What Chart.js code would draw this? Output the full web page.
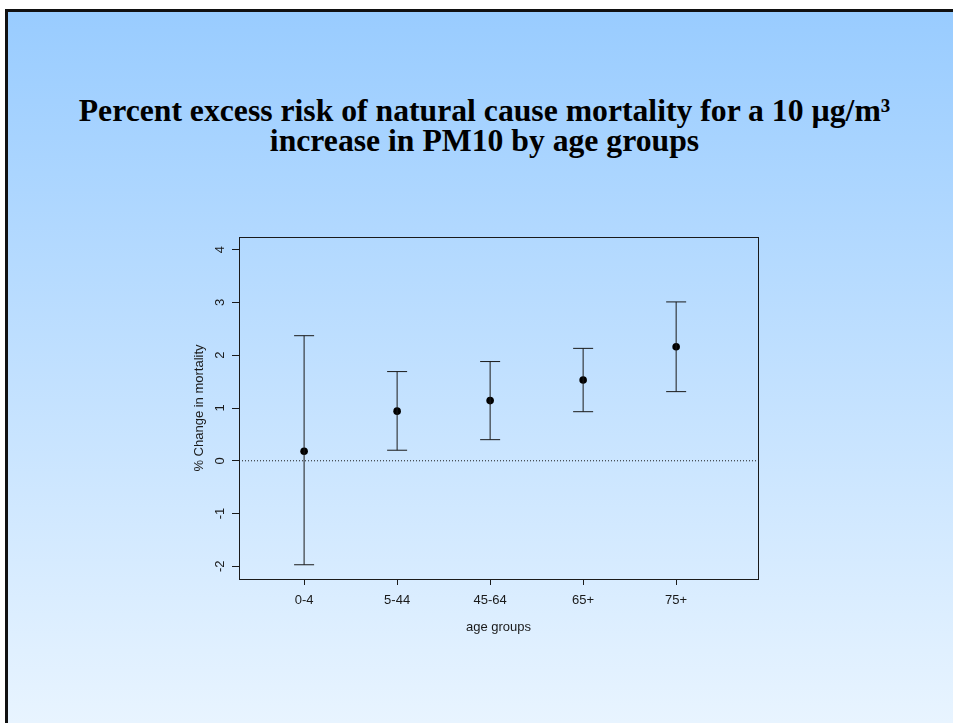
<!DOCTYPE html>
<html>
<head>
<meta charset="utf-8">
<script src="https://cdn.jsdelivr.net/npm/chart.js@4.4.1/dist/chart.umd.min.js"></script>
<style>
    html, body { margin: 0; padding: 0; width: 953px; height: 723px; overflow: hidden; background: #fff; }
    .frame {
        position: absolute; left: 5px; top: 9px; width: 945px; height: 711px;
        border-top: 3px solid #111; border-left: 3px solid #111;
        background: linear-gradient(#99ccff, #e8f4ff);
    }
    h1 {
        position: absolute; left: 8px; top: 96px; width: 953px; margin: 0;
        text-align: center; color: #000;
        font: bold 31.7px/30px "Liberation Serif", "Times New Roman", serif;
    }
    #wrap { position: absolute; left: 0; top: 0; width: 953px; height: 723px; }
</style>
</head>
<body>
<div class="frame"></div>
<h1>Percent excess risk of natural cause mortality for a 10 µg/m³<br>increase in PM10 by age groups</h1>
<div id="wrap"><canvas id="chart"></canvas></div>
<script>
const ageGroups = ['0-4', '5-44', '45-64', '65+', '75+'];
const estimate = [0.18, 0.94, 1.14, 1.53, 2.16];
const lower = [-1.97, 0.20, 0.40, 0.93, 1.31];
const upper = [2.37, 1.69, 1.88, 2.13, 3.01];
const yTicks = [-2, -1, 0, 1, 2, 3, 4];
const xLimits = [0.3, 5.88];
const yLimits = [-2.24, 4.24];

const ink = '#1a1a1a';
const axisFont = { family: '"Liberation Sans", Arial, sans-serif', size: 13 };

// one dataset per age group: whisker line, caps drawn as 'line' point style
const whiskers = ageGroups.map((g, i) => ({
    data: [{ x: i + 1, y: lower[i] }, { x: i + 1, y: upper[i] }],
    showLine: true,
    borderColor: ink,
    borderWidth: 1,
    pointStyle: 'line',
    pointRadius: 10,
    pointBorderWidth: 1,
    pointBorderColor: ink,
}));

const plotBox = {
    id: 'plotBox',
    beforeDatasetsDraw(chart) {
        const { ctx, chartArea: a } = chart;
        ctx.save();
        ctx.strokeStyle = ink;
        ctx.lineWidth = 1;
        ctx.strokeRect(Math.round(a.left) + 0.5, Math.round(a.top) + 0.5,
            Math.round(a.right - a.left), Math.round(a.bottom - a.top));
        ctx.restore();
    },
    afterDraw(chart) {
        // y tick labels, rotated like the original
        const { ctx } = chart;
        const y = chart.scales.y;
        ctx.save();
        ctx.fillStyle = ink;
        ctx.font = `${axisFont.size}px ${axisFont.family}`;
        ctx.textAlign = 'center';
        ctx.textBaseline = 'middle';
        y.ticks.forEach(t => {
            ctx.save();
            ctx.translate(220, y.getPixelForValue(t.value));
            ctx.rotate(-Math.PI / 2);
            ctx.fillText(String(t.value), 0, 0);
            ctx.restore();
        });
        ctx.restore();
    },
};

new Chart(document.getElementById('chart'), {
    type: 'scatter',
    data: {
        datasets: [
            {
                data: [{ x: xLimits[0], y: 0 }, { x: xLimits[1], y: 0 }],
                showLine: true,
                borderColor: ink,
                borderWidth: 1,
                borderDash: [1, 2],
                pointRadius: 0,
            },
            ...whiskers,
            {
                data: estimate.map((v, i) => ({ x: i + 1, y: v })),
                pointRadius: 3.8,
                backgroundColor: '#000',
                borderColor: '#000',
                borderWidth: 0,
            },
        ],
    },
    options: {
        responsive: true,
        maintainAspectRatio: false,
        animation: false,
        layout: { padding: { left: 192, top: 237, right: 195, bottom: 88 } },
        plugins: {
            legend: { display: false },
            tooltip: { enabled: false },
        },
        scales: {
            x: {
                type: 'linear',
                min: xLimits[0],
                max: xLimits[1],
                afterBuildTicks: s => { s.ticks = ageGroups.map((g, i) => ({ value: i + 1 })); },
                afterFit: s => { s.height = 56; },
                ticks: {
                    callback: (v, i) => ageGroups[i],
                    color: ink,
                    font: axisFont,
                    padding: 8,
                    maxRotation: 0,
                },
                grid: { drawOnChartArea: false, tickLength: 6, color: ink },
                border: { display: false },
                title: { display: true, text: 'age groups', color: ink, font: axisFont, padding: 0 },
            },
            y: {
                min: yLimits[0],
                max: yLimits[1],
                afterBuildTicks: s => { s.ticks = yTicks.map(v => ({ value: v })); },
                afterFit: s => { s.width = 47; },
                ticks: { display: false },
                grid: { drawOnChartArea: false, tickLength: 7, color: ink },
                border: { display: false },
                title: { display: true, text: '% Change in mortality', color: ink, font: axisFont, padding: 0 },
            },
        },
    },
    plugins: [plotBox],
});
</script>
</body>
</html>
